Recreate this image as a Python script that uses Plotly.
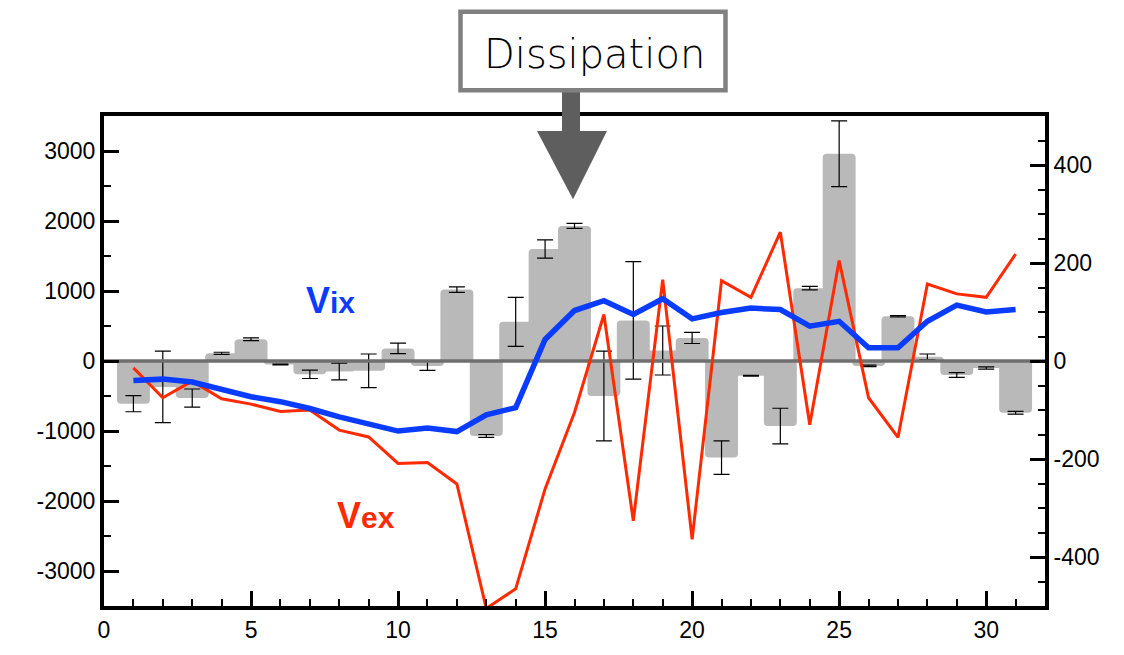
import plotly.graph_objects as go

# ---------------- data ----------------
idx = list(range(1, 32))
bar_vals = [-610, -370, -530, 110, 310, -50, -190, -150, -140, 180,
            -70, 1020, -1070, 560, 1600, 1930, -500, 580, 150, 330,
            -1380, -210, -930, 1040, 2960, -70, 640, 60, -200, -100, -740]
bar_err = [115, 510, 130, 15, 20, 5, 60, 120, 240, 75,
           65, 40, 20, 350, 130, 35, 640, 840, 350, 80,
           240, 5, 255, 25, 470, 10, 10, 40, 35, 15, 20]
vix = [-40, -37, -43, -58, -73, -83, -97, -114, -129, -143,
       -137, -144, -110, -95, 44, 103, 123, 95, 127, 86,
       99, 108, 105, 71, 81, 27, 27, 81, 114, 100, 105]
vex = [-14, -75, -41, -77, -88, -103, -100, -141, -155, -209,
       -207, -251, -505, -465, -261, -105, 95, -326, 166, -364,
       164, 130, 263, -130, 205, -75, -156, 157, 137, 130, 218]
x_ticks = [0, 5, 10, 15, 20, 25, 30]
y_left_ticks = [-3000, -2000, -1000, 0, 1000, 2000, 3000]
y_right_ticks = [-400, -200, 0, 200, 400]

W, H = 1124, 655
L, R, T, B = 104, 1045, 116, 610


def px(xp):
    return (xp - L) / (R - L)


def py(yp):
    return (B - yp) / (B - T)


fig = go.Figure()
fig.add_trace(go.Bar(
    x=idx, y=bar_vals, width=1.12,
    marker=dict(color="#b9b9b9", line=dict(width=0)),
    error_y=dict(type="data", array=bar_err, color="black", thickness=1.2, width=8),
    yaxis="y", showlegend=False,
))
# zero reference line (drawn above bars, below lines)
fig.add_trace(go.Scatter(
    x=[0, 32], y=[0, 0], mode="lines",
    line=dict(color="#6f6f6f", width=3.5), yaxis="y", showlegend=False,
    hoverinfo="skip",
))
fig.add_trace(go.Scatter(
    x=idx, y=vex, mode="lines", line=dict(color="#ff2a00", width=3),
    yaxis="y2", showlegend=False,
))
fig.add_trace(go.Scatter(
    x=idx, y=vix, mode="lines", line=dict(color="#0a3cff", width=5.5),
    yaxis="y2", showlegend=False,
))

tickfont = dict(family="Liberation Sans, Arial, sans-serif", size=23, color="black")

fig.update_layout(
    width=W, height=H,
    margin=dict(l=L, r=W - R, t=T, b=H - B),
    paper_bgcolor="white", plot_bgcolor="white",
    barcornerradius=4,
    barmode="overlay",
    xaxis=dict(
        range=[0, 32], tickvals=x_ticks, ticktext=[str(v) for v in x_ticks],
        ticks="inside", ticklen=15, tickwidth=3,
        tickcolor="black", showline=True, linecolor="black", linewidth=4,
        mirror=True, showgrid=False, zeroline=False, tickfont=tickfont,
        minor=dict(dtick=1, ticks="inside", ticklen=7, tickwidth=1.5, tickcolor="black"),
    ),
    yaxis=dict(
        range=[-3500, 3500], tickvals=y_left_ticks,
        ticktext=[str(v) for v in y_left_ticks],
        ticks="inside", ticklen=15,
        tickwidth=3, tickcolor="black", showline=True, linecolor="black",
        linewidth=4, showgrid=False, zeroline=False, tickfont=tickfont,
        minor=dict(dtick=500, tick0=0, ticks="inside", ticklen=7, tickwidth=1.5, tickcolor="black"),
    ),
    yaxis2=dict(
        range=[-500, 500], tickvals=y_right_ticks,
        ticktext=[str(v) for v in y_right_ticks],
        ticks="inside", ticklen=15,
        tickwidth=3, tickcolor="black", showline=True, linecolor="black",
        linewidth=4, showgrid=False, zeroline=False, tickfont=tickfont,
        overlaying="y", side="right",
        minor=dict(dtick=50, tick0=0, ticks="inside", ticklen=7, tickwidth=1.5, tickcolor="black"),
    ),
)

# labels Vix / Vex
fig.add_annotation(
    x=7.69, y=870, xref="x", yref="y", showarrow=False,
    text="<b><span style='font-size:36px'>V</span>ix</b>",
    font=dict(family="Liberation Sans, Arial, sans-serif", size=30, color="#0a3cff"),
)
fig.add_annotation(
    x=8.9, y=-2210, xref="x", yref="y", showarrow=False,
    text="<b><span style='font-size:36px'>V</span>ex</b>",
    font=dict(family="Liberation Sans, Arial, sans-serif", size=30, color="#ff2a00"),
)

# Dissipation box and arrow
fig.add_shape(type="rect", xref="paper", yref="paper",
              x0=px(460.5), x1=px(725.5), y0=py(90), y1=py(11),
              line=dict(color="#808080", width=4.5), fillcolor="white", layer="above")
fig.add_annotation(
    x=px(594), y=py(53), xref="paper", yref="paper", showarrow=False,
    xanchor="center", yanchor="middle",
    text="Dissipation",
    font=dict(family="DejaVu Sans, sans-serif", size=40, weight=300, color="black"),
)
fig.add_shape(type="rect", xref="paper", yref="paper",
              x0=px(562), x1=px(580), y0=py(133), y1=py(92),
              line=dict(width=0), fillcolor="#5e5e5e", layer="above")
fig.add_shape(type="path", xref="paper", yref="paper",
              path=f"M {px(537)} {py(131)} L {px(607)} {py(131)} L {px(573)} {py(200)} Z",
              line=dict(width=0), fillcolor="#5e5e5e", layer="above")

fig.write_html("out.html")
